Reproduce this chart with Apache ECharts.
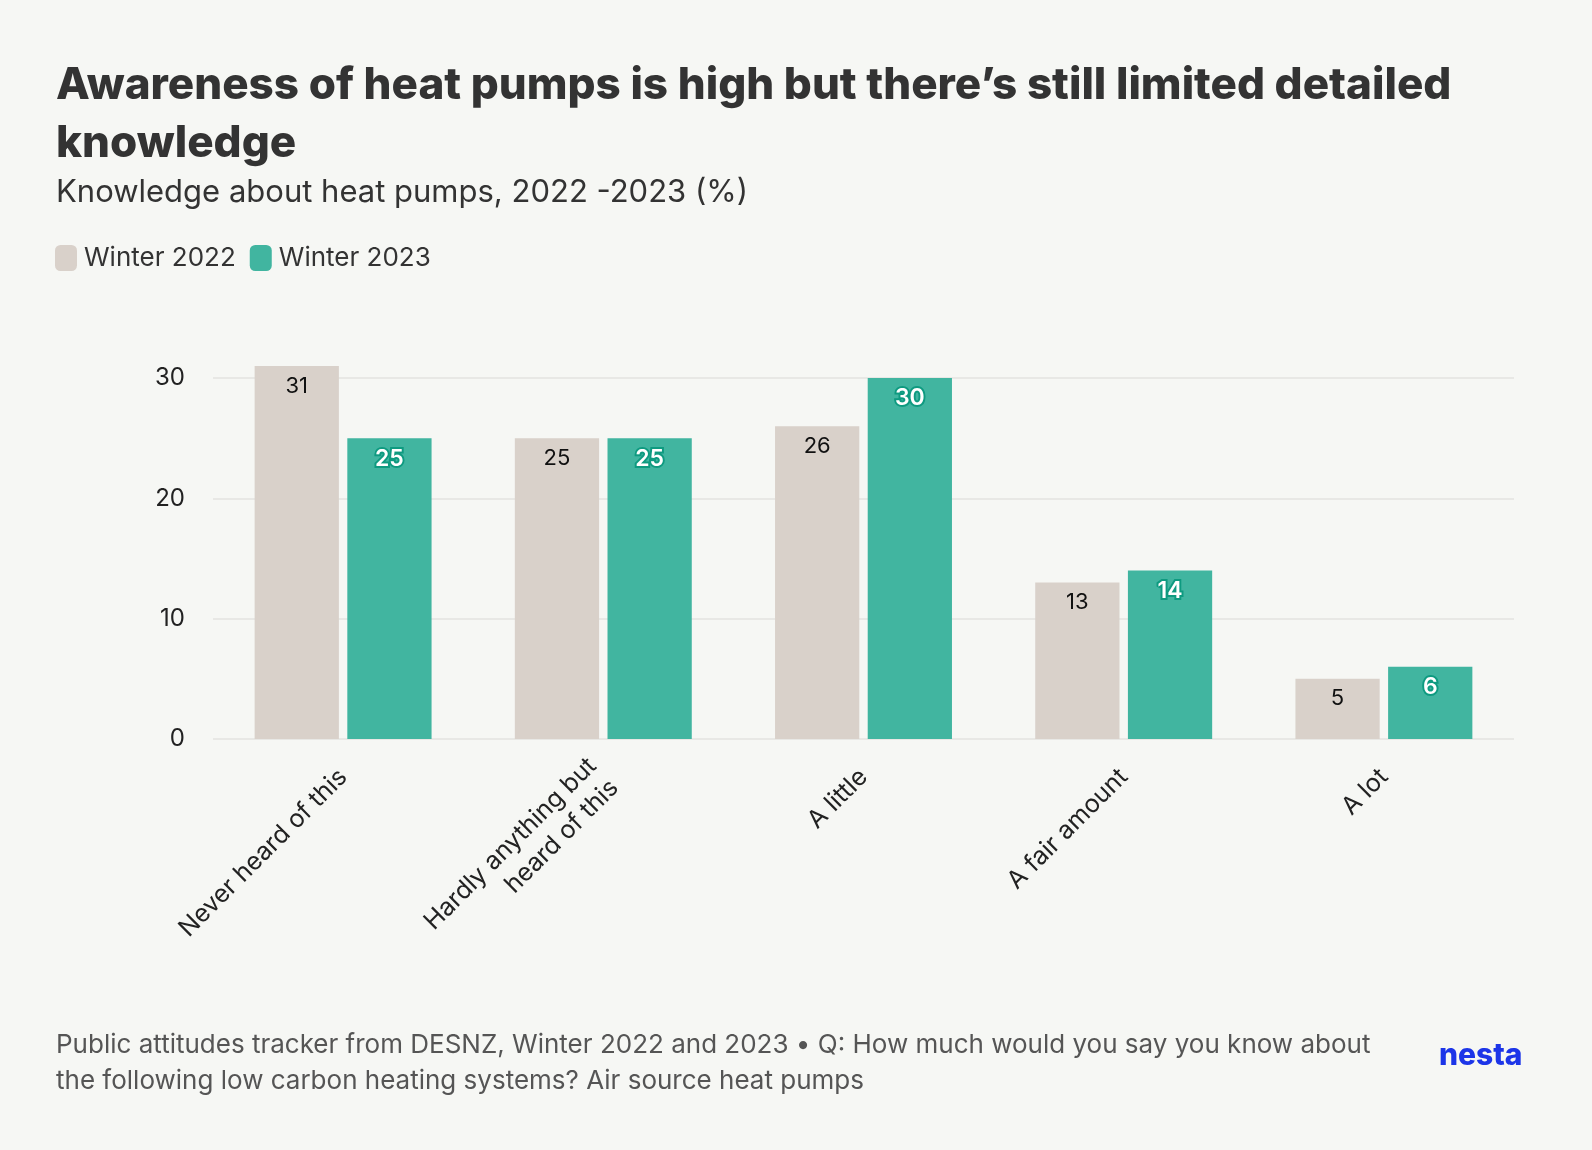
<!DOCTYPE html>
<html style="height:100%">
<head>
<meta charset="utf-8">
<script src="https://cdn.jsdelivr.net/npm/echarts@6/dist/echarts.min.js"></script>
</head>
<body style="height:100%;margin:0;background:#f6f7f4">
<div id="container" style="width:1592px;height:1150px"></div>
<script>
var categories = ['Never heard of this', 'Hardly anything but\nheard of this', 'A little', 'A fair amount', 'A lot'];
var winter2022 = [31, 25, 26, 13, 5];
var winter2023 = [25, 25, 30, 14, 6];
var yTicks = [0, 10, 20, 30];

var font = 'Inter, "Noto Sans", sans-serif';
var chart = echarts.init(document.getElementById('container'));
chart.setOption({
  backgroundColor: '#f6f7f4',
  textStyle: { fontFamily: font },
  title: [
    { text: 'Awareness of heat pumps is high but there\u2019s still limited detailed\nknowledge', left: 51, top: 52,
      textStyle: { fontSize: 44, fontWeight: 800, color: '#333', lineHeight: 58, fontFamily: font } },
    { text: 'Knowledge about heat pumps, 2022 -2023 (%)', left: 51, top: 172,
      textStyle: { fontSize: 31, fontWeight: 400, color: '#333', fontFamily: font } },
    { text: 'Public attitudes tracker from DESNZ, Winter 2022 and 2023 \u2022 Q: How much would you say you know about\nthe following low carbon heating systems? Air source heat pumps',
      left: 51, top: 1022, textStyle: { fontSize: 26, fontWeight: 400, color: '#555', lineHeight: 36, fontFamily: font } },
    { text: 'nesta', left: 1434, top: 1036, textStyle: { fontSize: 30, fontWeight: 800, color: '#1c35e8', fontFamily: font } }
  ],
  legend: {
    left: 50, top: 240, itemWidth: 22, itemHeight: 26, itemGap: 14,
    icon: 'roundRect',
    textStyle: { fontSize: 26, color: '#333', padding: [0, 0, 0, 2] },
    data: ['Winter 2022', 'Winter 2023']
  },
  grid: { left: 213, right: 78, top: 378, bottom: 411 },
  xAxis: {
    type: 'category', data: categories,
    axisLine: { show: false }, axisTick: { show: false },
    axisLabel: { rotate: 45, fontSize: 25, color: '#222', margin: 34, align: 'right', lineHeight: 31 }
  },
  yAxis: {
    type: 'value', min: 0, max: 30, interval: 10,
    axisLabel: { fontSize: 24, color: '#222', margin: 28, formatter: function (v) { return yTicks.indexOf(v) >= 0 ? v : ''; } },
    splitLine: { lineStyle: { color: '#e8e8e5', width: 2 } }
  },
  series: [
    { name: 'Winter 2022', type: 'bar', data: winter2022, clip: false, barGap: '10%', barCategoryGap: '32%',
      itemStyle: { color: '#d9d1ca' },
      label: { show: true, position: 'insideTop', distance: 9, fontSize: 22, color: '#111', textBorderColor: '#d9d1ca', textBorderWidth: 4 } },
    { name: 'Winter 2023', type: 'bar', data: winter2023, clip: false,
      itemStyle: { color: '#41b5a0' },
      label: { show: true, position: 'insideTop', distance: 9, fontSize: 23, fontWeight: 600, color: '#fff', textBorderColor: '#0e9a80', textBorderWidth: 4 } }
  ]
});
</script>
</body>
</html>
